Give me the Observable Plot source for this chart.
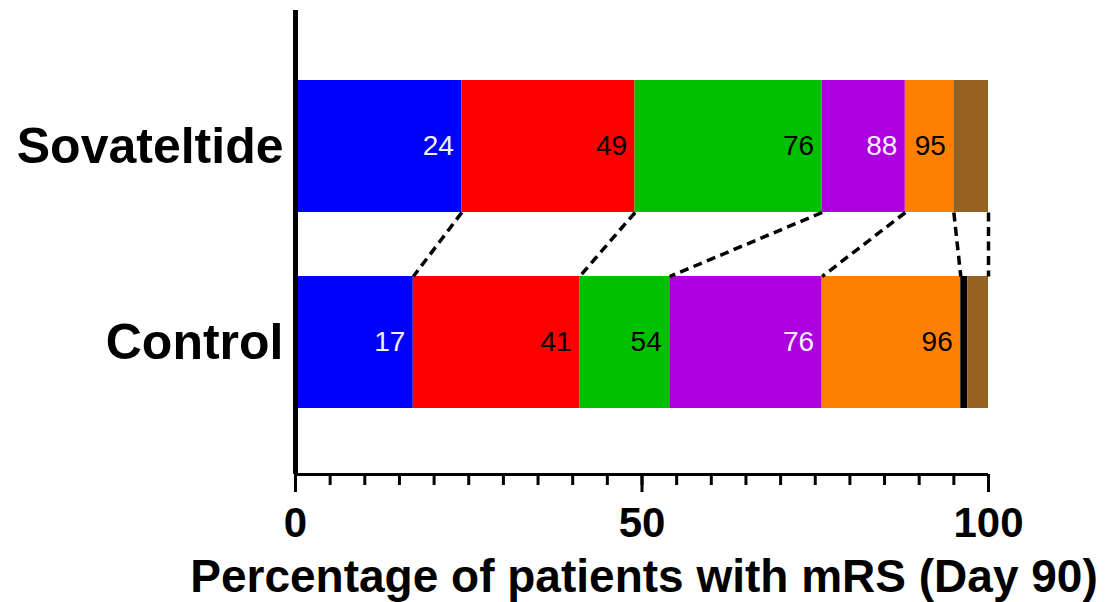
<!DOCTYPE html>
<html>
<head>
<meta charset="utf-8">
<script src="https://cdn.jsdelivr.net/npm/d3@7"></script>
<script src="https://cdn.jsdelivr.net/npm/@observablehq/plot@0.6"></script>
<style>
  html, body { margin: 0; padding: 0; background: #fff; }
  #chart { width: 1117px; height: 602px; overflow: hidden; }
</style>
</head>
<body>
<div id="chart"></div>
<script>
// ---- data ----
const groups = ["Sovateltide", "Control"];
const mrsLevels = ["0", "1", "2", "3", "4", "5", "6"];
const levelColors = ["#0000ff", "#ff0000", "#00c000", "#ae00de", "#ff8000", "#000000", "#95631f"];
const sovateltide = [24, 25, 27, 12, 7, 0, 5];
const control = [17, 24, 13, 22, 20, 1, 3];
const labelledLevels = [0, 1, 2, 3, 4];
const labelColors = ["#f2f0f8", "#000000", "#000000", "#f2f0f8", "#000000"];
const linkedLevels = [0, 1, 2, 3, 4, 6];
const xTicksMajor = [0, 50, 100];
const xTicksMinor = d3.range(0, 101, 5);
const xTitle = "Percentage of patients with mRS (Day 90)";

// ---- build table ----
const seriesByGroup = {Sovateltide: sovateltide, Control: control};
const half = 66 / 196; // half bar thickness in band units
const posOf = g => groups.length - 1 - groups.indexOf(g);
const rows = [];
for (const g of groups) {
  let acc = 0;
  seriesByGroup[g].forEach((v, i) => {
    rows.push({group: g, pos: posOf(g), level: i, x1: acc, x2: acc + v, color: levelColors[i]});
    acc += v;
  });
}
const labels = rows.filter(r => labelledLevels.includes(r.level))
  .map(r => ({...r, text: String(r.x2), tcolor: labelColors[r.level]}));
const cum = g => rows.filter(r => r.group === g);
const links = linkedLevels.map(l => ({
  xa: cum("Sovateltide")[l].x2, ya: posOf("Sovateltide") - half,
  xb: cum("Control")[l].x2, yb: posOf("Control") + half
}));

const yMin = -132 / 196, yMax = 1 + 136 / 196;
const font = "'Liberation Sans', Arial, sans-serif";

const chart = Plot.plot({
  width: 1117,
  height: 602,
  marginLeft: 295,
  marginRight: 129,
  marginTop: 10,
  marginBottom: 128,
  style: {fontFamily: font, background: "#fff", color: "#000"},
  x: {domain: [0, 100]},
  y: {domain: [yMin, yMax]},
  color: {type: "identity"},
  marks: [
    Plot.rectX(rows, {x1: "x1", x2: "x2", y1: d => d.pos - half, y2: d => d.pos + half, fill: "color"}),
    Plot.text(labels, {
      x: "x2", y: "pos", text: "text", fill: "tcolor", textAnchor: "end", dx: -8,
      fontSize: 28, fontFamily: "'Liberation Sans Narrow', 'Arial Narrow', 'Liberation Sans', sans-serif",
      fontStretch: "condensed"
    }),
    Plot.link(links, {x1: "xa", y1: "ya", x2: "xb", y2: "yb", stroke: "#000", strokeWidth: 3.5, strokeDasharray: "9,5.5"}),
    Plot.ruleY([yMin], {x1: 0, x2: 100, stroke: "#000", strokeWidth: 3}),
    Plot.ruleX([0], {stroke: "#000", strokeWidth: 5}),
    Plot.axisX({ticks: xTicksMinor, tickSize: 11, tickFormat: () => "", strokeWidth: 3, label: null}),
    Plot.axisX({ticks: xTicksMajor, tickSize: 18, tickPadding: 15, strokeWidth: 3, fontSize: 42, fontWeight: "bold", label: null, tickFormat: d => String(d)}),
    Plot.axisY({ticks: [0, 1], tickSize: 0, tickPadding: 12, fontSize: 50, fontWeight: "bold", label: null,
      tickFormat: i => groups[groups.length - 1 - i]}),
    Plot.text([xTitle], {frameAnchor: "bottom", lineAnchor: "top", dy: 85, dx: 2, fontSize: 46, fontWeight: "bold", fill: "#000"})
  ]
});
document.getElementById("chart").appendChild(chart);
</script>
</body>
</html>
